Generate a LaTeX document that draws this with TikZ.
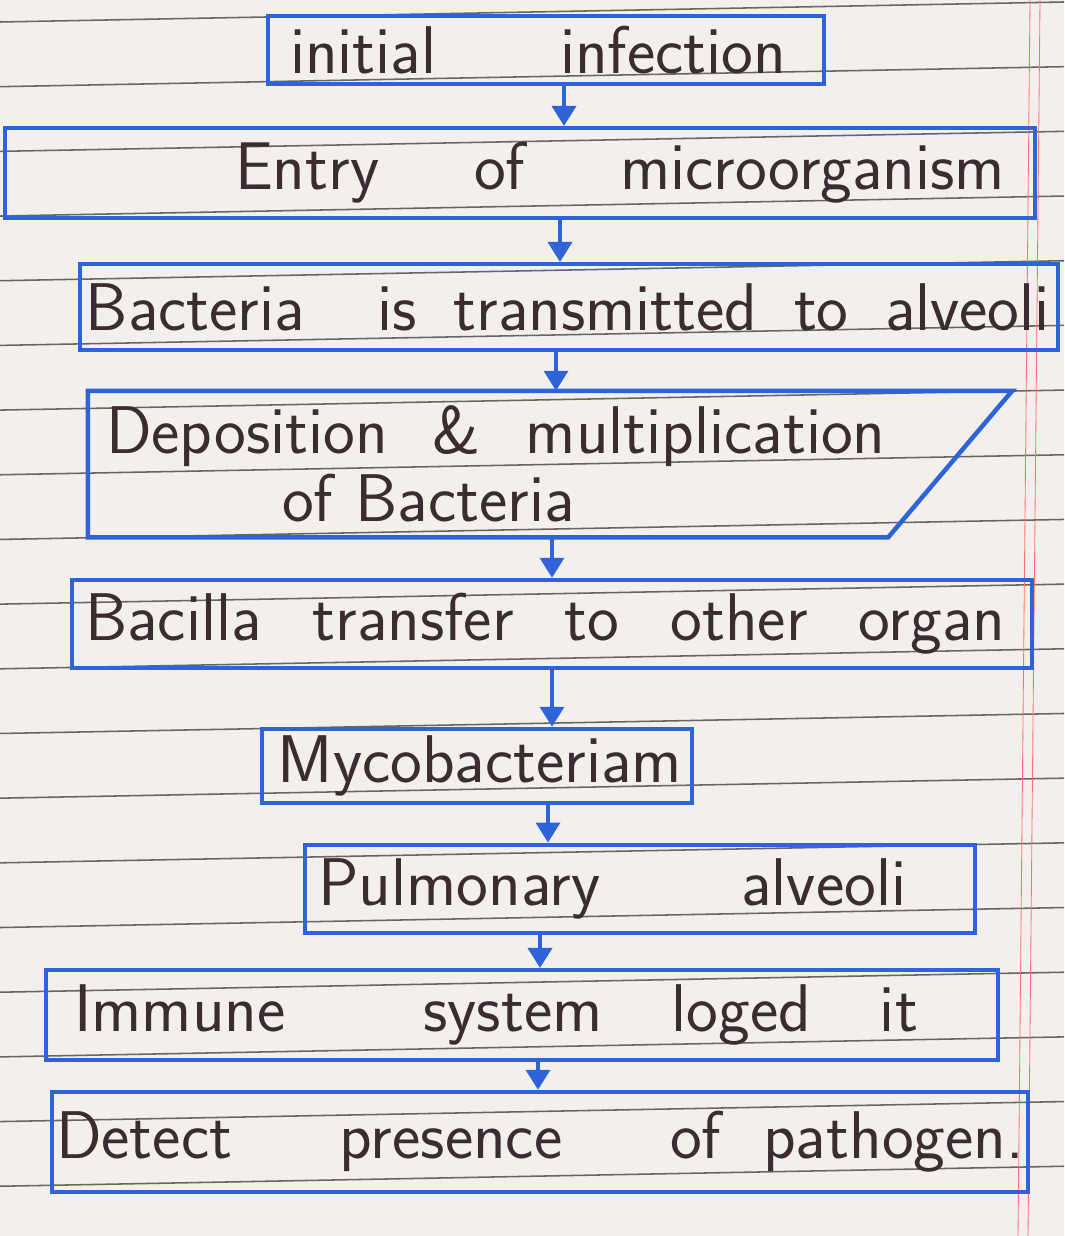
\documentclass[tikz,border=0pt]{standalone}
\usepackage{fontspec}
\usepackage{xcolor}
\usepackage{tikz}
\usetikzlibrary{arrows.meta, calc}
\definecolor{inkblue}{HTML}{2F63D8}
\definecolor{inkdark}{HTML}{3A2C30}
\definecolor{paper}{HTML}{F2EFEC}
% box width, left gap, text width, words
\newcommand{\inkline}[4]{\makebox[#1][l]{\hspace*{#2}\makebox[#3][s]{#4}}}
\tikzset{
    stepbox/.style={rectangle, draw=inkblue, line width=3.2pt, text=inkdark, font=\sffamily\fontsize{48}{48}\selectfont, inner sep=0pt},
    flow/.style={draw=inkblue, line width=2.6pt, -{Triangle[length=0.5cm, width=0.6cm]}},
    ruling/.style={draw=black!60, line width=1.1pt},
    margin/.style={draw=red!55, line width=0.6pt},
}

\begin{document}
\begin{tikzpicture}

% === PAPER ===
\useasboundingbox (0,0) rectangle (26.6,-30.9);
\fill[paper] (0,0) rectangle (26.6,-30.9);
\foreach \i in {0,...,18}
    \draw[ruling] (0,-0.55-1.617*\i) -- (26.6,-0.05-1.617*\i);
\draw[margin] (25.75,0) -- (25.45,-30.9);
\draw[margin] (26.0,0) -- (25.7,-30.9);

% === STEPS ===
\node[stepbox, minimum height=1.7cm] (init) at (13.65,-1.25)
    {\inkline{13.9cm}{0.55cm}{12.4cm}{initial\hfill infection}};
\node[stepbox, minimum height=2.25cm] (entry) at (13.0,-4.33)
    {\inkline{25.75cm}{5.75cm}{19.25cm}{Entry\hfill of\hfill microorganism}};
\node[stepbox, minimum height=2.15cm] (trans) at (14.22,-7.68)
    {\inkline{24.45cm}{0.15cm}{24.1cm}{Bacteria\hfill\hfill is\hfill transmitted\hfill to\hfill alveoli}};
\node[stepbox, draw=none, minimum width=23cm, minimum height=3.55cm, text width=22.2cm, inner xsep=0.4cm, align=left] (dep) at (13.75,-11.6)
    {Deposition \ \& \ multiplication\\\hspace*{4.4cm}of Bacteria};
\draw[inkblue, line width=3.2pt] (dep.south west) -- (dep.north west) -- (dep.north east) -- ($(dep.south east)+(-3.1,0)$) -- cycle;
\node[stepbox, minimum height=2.2cm] (bac) at (13.8,-15.6)
    {\inkline{24cm}{0.33cm}{23cm}{Bacilla\hfill transfer\hfill to\hfill other\hfill organ}};
\node[stepbox, minimum height=1.85cm] (myco) at (11.92,-19.15)
    {\inkline{10.75cm}{0.4cm}{10.2cm}{Mycobacteriam}};
\node[stepbox, minimum height=2.2cm] (pulm) at (16.0,-22.22)
    {\inkline{16.75cm}{0.33cm}{14.7cm}{Pulmonary\hfill alveoli}};
\node[stepbox, minimum height=2.25cm] (imm) at (13.05,-25.38)
    {\inkline{23.8cm}{0.7cm}{21.1cm}{Immune\hfill\hfill system\hfill loged\hfill it}};
\node[stepbox, minimum height=2.5cm] (det) at (13.5,-28.55)
    {\inkline{24.4cm}{0.1cm}{24.2cm}{Detect\hfill presence\hfill of\ \ pathogen.}};

% === ARROWS ===
\foreach \a/\b/\x in {init/entry/14.1, entry/trans/14.0, trans/dep/13.9, dep/bac/13.8, bac/myco/13.8, myco/pulm/13.7, pulm/imm/13.5, imm/det/13.45}
    \draw[flow] (\a.south -| \x,0) -- (\b.north -| \x,0);

\end{tikzpicture}
\end{document}
